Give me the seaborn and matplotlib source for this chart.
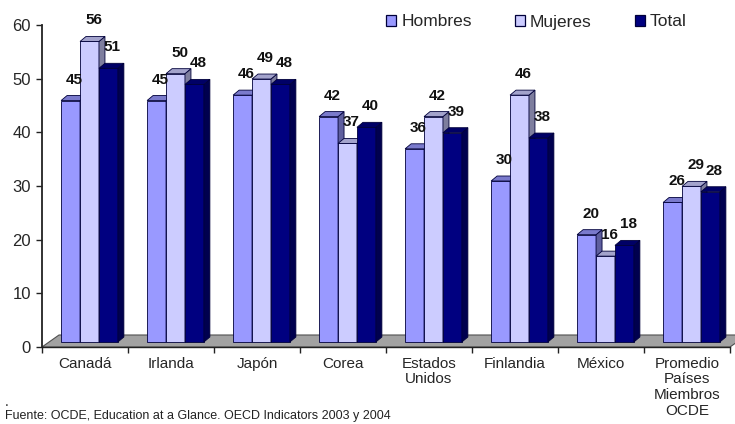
import numpy as np
import pandas as pd
import seaborn as sns
import matplotlib
matplotlib.use("Agg")
import matplotlib.pyplot as plt
from matplotlib.patches import Polygon, Patch
import matplotlib.transforms as mtransforms
import matplotlib.colors as mcolors

# ---------------- data ----------------
paises = ["Canadá", "Irlanda", "Japón", "Corea", "Estados\nUnidos",
          "Finlandia", "México", "Promedio\nPaíses\nMiembros\nOCDE"]
hombres = [45, 45, 46, 42, 36, 30, 20, 26]
mujeres = [56, 50, 49, 37, 42, 46, 16, 29]
total = [51, 48, 48, 40, 39, 38, 18, 28]
series = ["Hombres", "Mujeres", "Total"]
colores = ["#9999FF", "#CCCCFF", "#000080"]
yticks = [0, 10, 20, 30, 40, 50, 60]
fuente = "Fuente: OCDE, Education at a Glance. OECD Indicators 2003 y 2004"

sns.set_theme(style="white")
plt.rcParams["font.family"] = ["Liberation Sans", "DejaVu Sans"]

df = pd.DataFrame({
    "País": paises * 3,
    "Serie": [s for s in series for _ in paises],
    "Valor": hombres + mujeres + total,
})

W, H = 735, 424
fig = plt.figure(figsize=(W / 100, H / 100), dpi=100)
x0, x1 = 42, 730
y0, y1 = 347, 25
ax = fig.add_axes([x0 / W, 1 - y0 / H, (x1 - x0) / W, (y0 - y1) / H])

sns.barplot(data=df, x="País", y="Valor", hue="Serie", palette=colores,
            hue_order=series, order=paises, width=0.66, saturation=1,
            edgecolor="#00003a", linewidth=0.6, legend=False, ax=ax)
ax.set_xlim(-0.5, 7.5)
ax.set_ylim(0, 60)
ax.set_xlabel("")
ax.set_ylabel("")

# pixel -> data conversions
pxx = (x1 - x0) / 8.0
pxy = (y0 - y1) / 60.0

# floor (3D base)
fdx, fdy = 17 / pxx, 12 / pxy
floor = Polygon([(-0.5, 0), (7.5, 0), (7.5 + fdx, fdy), (-0.5 + fdx, fdy)],
                closed=True, facecolor="#A2A2A2", edgecolor="#505050",
                linewidth=0.8, zorder=1, clip_on=False)
ax.add_patch(floor)

# bar shift (bars sit in middle of floor) and depth
sx, sy = 4.5, 5.0
T = ax.transData + mtransforms.Affine2D().translate(sx, sy)
ddx, ddy = 6 / pxx, 5 / pxy

def shade(c, f):
    r, g, b = mcolors.to_rgb(c)
    return (r * f, g * f, b * f)

bars = [p for p in ax.patches if p is not floor]
bars = sorted(bars, key=lambda p: p.get_x())
for k, p in enumerate(bars):
    x = p.get_x(); w = p.get_width(); h = p.get_height()
    fc = p.get_facecolor()
    z = 3 + k * 0.01
    p.set_transform(T)
    p.set_zorder(z)
    p.set_clip_on(False)
    side = Polygon([(x + w, 0), (x + w + ddx, ddy), (x + w + ddx, h + ddy), (x + w, h)],
                   closed=True, facecolor=shade(fc, 0.62), edgecolor="#00003a",
                   linewidth=0.6, transform=T, zorder=z, clip_on=False)
    top = Polygon([(x, h), (x + w, h), (x + w + ddx, h + ddy), (x + ddx, h + ddy)],
                  closed=True, facecolor=shade(fc, 0.8), edgecolor="#00003a",
                  linewidth=0.6, transform=T, zorder=z, clip_on=False)
    ax.add_patch(side)
    ax.add_patch(top)
    ax.annotate(f"{h:.0f}", xy=(x + w / 2, h), xycoords="data",
                xytext=(sx + 4, sy + 14), textcoords="offset pixels",
                ha="center", va="bottom", fontsize=11, fontweight="bold",
                color="#111111", zorder=10, annotation_clip=False)

# axes styling
for s in ["top", "right"]:
    ax.spines[s].set_visible(False)
ax.spines["left"].set_color("#222222")
ax.spines["left"].set_linewidth(1.3)
ax.spines["bottom"].set_color("#222222")
ax.spines["bottom"].set_linewidth(1.0)
ax.spines["bottom"].set_zorder(2)
ax.set_yticks(yticks)
ax.set_yticklabels([str(t) for t in yticks])
ax.tick_params(axis="y", direction="out", length=4, width=1, color="#222222",
               labelsize=12, pad=4, left=True)
ax.set_xticks(range(len(paises)))
ax.set_xticklabels(paises)
ax.tick_params(axis="x", which="major", length=0, labelsize=11, pad=7)
ax.set_xticks(np.arange(-0.5, 8.0, 1.0), minor=True)
ax.tick_params(axis="x", which="minor", direction="out", length=4, width=1,
               color="#222222", bottom=True)
for lab in ax.get_xticklabels():
    lab.set_linespacing(1.15)
ax.patch.set_alpha(0)

# legend
handles = [Patch(facecolor=c, edgecolor="#00003a", linewidth=0.9) for c in colores]
fig.legend(handles, series, loc="center",
           bbox_to_anchor=((383 + 690) / 2 / W, 1 - 22 / H), ncol=3,
           frameon=False, fontsize=12.5, handlelength=0.55, handleheight=0.55,
           handletextpad=0.3, columnspacing=2.5)

fig.text(5 / W, 1 - 406 / H, ".", fontsize=10, color="#222222")
fig.text(5 / W, 1.5 / H, fuente, va="bottom", ha="left", fontsize=9,
         color="#222222")

fig.savefig("out.png", dpi=100, facecolor="white")
